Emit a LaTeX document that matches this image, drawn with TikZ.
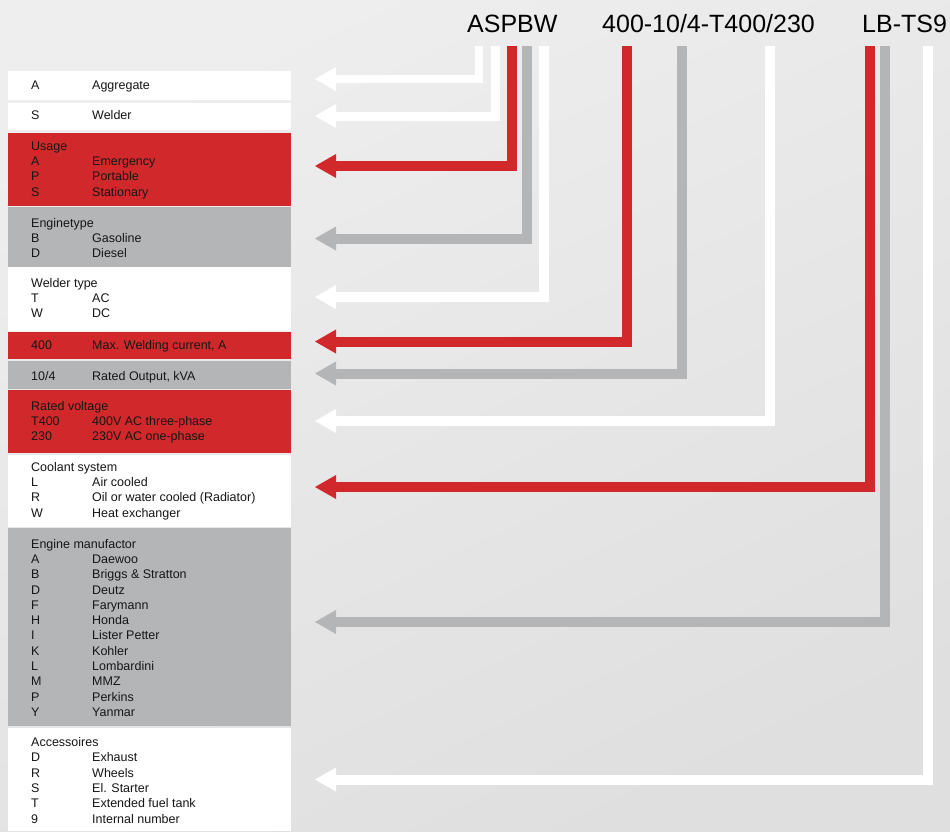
\documentclass[tikz,border=0pt]{standalone}
\usepackage{fontspec}
\setmainfont{Liberation Sans}
\usetikzlibrary{arrows.meta}
\definecolor{cred}{HTML}{D1292B}
\definecolor{cgray}{HTML}{B4B5B7}
\definecolor{ctext}{HTML}{161616}
\definecolor{bgtop}{HTML}{EFEEEE}
\definecolor{bgbot}{HTML}{DFDFDF}
\begin{document}
\begin{tikzpicture}[x=1pt,y=-1pt,
  box/.style={draw=none,inner sep=0pt,outer sep=0pt,anchor=north west,minimum width=283pt},
  lbl/.style={inner sep=0pt,anchor=base west,font=\fontsize{12.5}{15}\selectfont,text=ctext},
  hdr/.style={inner sep=0pt,anchor=base west,font=\fontsize{25}{30}\selectfont,text=black},
  conn/.style={line width=10pt,line cap=butt,line join=miter,
    -{Triangle[length=21pt,width=24pt,line width=0pt,sep=3pt]}},
]
\useasboundingbox (0,0) rectangle (950,831);
\shade[top color=bgtop,bottom color=bgbot,shading angle=25] (0,0) rectangle (950,831);

% header
\node[hdr] (h1) at (467,32.3) {ASPBW};
\node[hdr] (h2) at (602,32.3) {400-10/4-T400/230};
\node[hdr] (h3) at (862,32.3) {LB-TS9};

% boxes
\node[box,fill=white,minimum height=29pt] (b1) at (8,71) {};
\node[box,fill=white,minimum height=27pt] (b2) at (8,103) {};
\node[box,fill=cred,minimum height=72.5pt] (b3) at (8,133) {};
\node[box,fill=cgray,minimum height=59.5pt] (b4) at (8,207) {};
\node[box,fill=white,minimum height=64pt] (b5) at (8,267) {};
\node[box,fill=cred,minimum height=27.5pt] (b6) at (8,331.5) {};
\node[box,fill=cgray,minimum height=27.5pt] (b7) at (8,361) {};
\node[box,fill=cred,minimum height=63pt] (b8) at (8,390) {};
\node[box,fill=white,minimum height=72pt] (b9) at (8,455) {};
\node[box,fill=cgray,minimum height=198pt] (b10) at (8,528) {};
\node[box,fill=white,minimum height=103pt] (b11) at (8,728) {};

% texts
\node[lbl] (t1c) at (31,89) {A};   \node[lbl] (t1d) at (92,89) {Aggregate};
\node[lbl] (t2c) at (31,119.5) {S}; \node[lbl] (t2d) at (92,119.5) {Welder};
\node[lbl] (t3h) at (31,150.3) {Usage};
\node[lbl] (t3c1) at (31,165.5) {A}; \node[lbl] (t3d1) at (92,165.5) {Emergency};
\node[lbl] (t3c2) at (31,180.8) {P}; \node[lbl] (t3d2) at (92,180.8) {Portable};
\node[lbl] (t3c3) at (31,196.1) {S}; \node[lbl] (t3d3) at (92,196.1) {Stationary};
\node[lbl] (t4h) at (31,227) {Enginetype};
\node[lbl] (t4c1) at (31,242.2) {B}; \node[lbl] (t4d1) at (92,242.2) {Gasoline};
\node[lbl] (t4c2) at (31,257.4) {D}; \node[lbl] (t4d2) at (92,257.4) {Diesel};
\node[lbl] (t5h) at (31,287.5) {Welder type};
\node[lbl] (t5c1) at (31,302.7) {T}; \node[lbl] (t5d1) at (92,302.7) {AC};
\node[lbl] (t5c2) at (31,317.9) {W}; \node[lbl] (t5d2) at (92,317.9) {DC};
\node[lbl] (t6c) at (31,349.5) {400}; \node[lbl] (t6d) at (92,349.5) {Max. Welding current, A};
\node[lbl] (t7c) at (31,380) {10/4}; \node[lbl] (t7d) at (92,380) {Rated Output, kVA};
\node[lbl] (t8h) at (31,410) {Rated voltage};
\node[lbl] (t8c1) at (31,425.3) {T400}; \node[lbl] (t8d1) at (92,425.3) {400V AC three-phase};
\node[lbl] (t8c2) at (31,440.6) {230}; \node[lbl] (t8d2) at (92,440.6) {230V AC one-phase};
\node[lbl] (t9h) at (31,471.3) {Coolant system};
\node[lbl] (t9c1) at (31,486.6) {L}; \node[lbl] (t9d1) at (92,486.6) {Air cooled};
\node[lbl] (t9c2) at (31,501.9) {R}; \node[lbl] (t9d2) at (92,501.9) {Oil or water cooled (Radiator)};
\node[lbl] (t9c3) at (31,517.2) {W}; \node[lbl] (t9d3) at (92,517.2) {Heat exchanger};
\node[lbl] (t10h) at (31,548.3) {Engine manufactor};
\foreach \c/\d [count=\i] in {A/Daewoo,B/Briggs \& Stratton,D/Deutz,F/Farymann,H/Honda,
  I/Lister Petter,K/Kohler,L/Lombardini,M/MMZ,P/Perkins,Y/Yanmar}{
  \node[lbl] (t10c\i) at (31,548.3+15.27*\i) {\c};
  \node[lbl] (t10d\i) at (92,548.3+15.27*\i) {\d};
}
\node[lbl] (t11h) at (31,746.3) {Accessoires};
\foreach \c/\d [count=\i] in {D/Exhaust,R/Wheels,S/El. Starter,T/Extended fuel tank,9/Internal number}{
  \node[lbl] (t11c\i) at (31,746.3+15.35*\i) {\c};
  \node[lbl] (t11d\i) at (92,746.3+15.35*\i) {\d};
}

% connector end points
\coordinate (s1) at (479,46);    \coordinate (e1) at (312,79);
\coordinate (s2) at (495.5,46);  \coordinate (e2) at (312,116);
\coordinate (s3) at (512,46);    \coordinate (e3) at (312,166);
\coordinate (s4) at (527,46);    \coordinate (e4) at (312,238.5);
\coordinate (s5) at (543.5,46);  \coordinate (e5) at (312,297);
\coordinate (s6) at (627,46);    \coordinate (e6) at (312,341.5);
\coordinate (s7) at (682,46);    \coordinate (e7) at (312,373.5);
\coordinate (s8) at (770,46);    \coordinate (e8) at (312,421);
\coordinate (s9) at (870,46);    \coordinate (e9) at (312,487);
\coordinate (s10) at (884.5,46); \coordinate (e10) at (312,622);
\coordinate (s11) at (928,46);   \coordinate (e11) at (312,779.5);

\draw[conn,white,line width=8.5pt] (s1) |- (e1);
\draw[conn,white,line width=9pt] (s2) |- (e2);
\draw[conn,cred]  (s3) |- (e3);
\draw[conn,cgray] (s4) |- (e4);
\draw[conn,white] (s5) |- (e5);
\draw[conn,cred]  (s6) |- (e6);
\draw[conn,cgray] (s7) |- (e7);
\draw[conn,white] (s8) |- (e8);
\draw[conn,cred]  (s9) |- (e9);
\draw[conn,cgray] (s10) |- (e10);
\draw[conn,white] (s11) |- (e11);
\end{tikzpicture}
\end{document}
